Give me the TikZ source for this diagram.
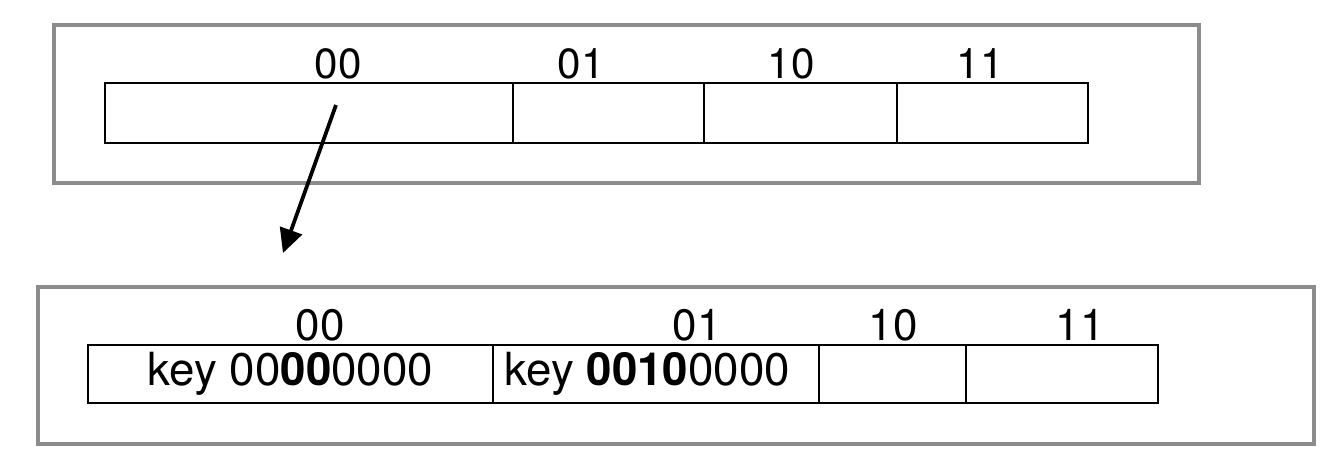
\documentclass[tikz,border=0pt]{standalone}
\usepackage{fontspec}
\setmainfont{TeX Gyre Heros}
\usetikzlibrary{arrows.meta,positioning}

\tikzset{
  outerbox/.style = {draw=black!45, line width=0.065cm},
  cell/.style = {draw, line width=0.04cm, inner sep=0pt,
    font=\fontsize{26}{30}\selectfont},
  toplabel/.style = {anchor=base, inner sep=0pt,
    font=\fontsize{24}{28}\selectfont},
  botlabel/.style = {anchor=base, inner sep=0pt,
    font=\fontsize{25}{29}\selectfont},
  pointer/.style = {line width=0.075cm,
    -{Triangle[length=0.48cm,width=0.46cm]}}
}

\begin{document}
\begin{tikzpicture}[x=0.02cm,y=-0.02cm]
  \useasboundingbox (0,0) rectangle (1328,468);

  % old directory
  \draw[outerbox] (54,25) rectangle (1199,183);
  \node[cell,minimum width=8.16cm,minimum height=1.2cm] (a1) at (309,113) {};
  \node[cell,minimum width=3.82cm,minimum height=1.2cm] (a2) at (608.5,113) {};
  \node[cell,minimum width=3.86cm,minimum height=1.2cm] (a3) at (800.5,113) {};
  \node[cell,minimum width=3.82cm,minimum height=1.2cm] (a4) at (992.5,113) {};
  \node[toplabel] (la1) at (338,78) {00};
  \node[toplabel] (la2) at (581,78) {01};
  \node[toplabel] (la3) at (791,78) {10};
  \node[toplabel] (la4) at (980,78) {11};

  % split directory
  \draw[outerbox] (38,287) rectangle (1314,444);
  \node[cell,minimum width=8.10cm,minimum height=1.16cm] (b1) at (290.5,374)
    {key 00\textbf{00}0000};
  \node[cell,minimum width=6.52cm,minimum height=1.16cm] (b2) at (656,374)
    {\hspace{-0.35cm}key \textbf{0010}0000};
  \node[cell,minimum width=2.94cm,minimum height=1.16cm] (b3) at (892.5,374) {};
  \node[cell,minimum width=3.84cm,minimum height=1.16cm] (b4) at (1062,374) {};
  \node[botlabel] (lb1) at (320,340) {00};
  \node[botlabel] (lb2) at (697,340) {01};
  \node[botlabel] (lb3) at (893,340) {10};
  \node[botlabel] (lb4) at (1080,340) {11};

  \coordinate (from) at (336,105);
  \coordinate (to) at (283,253);
  \draw[pointer] (from) -- (to);
\end{tikzpicture}
\end{document}
